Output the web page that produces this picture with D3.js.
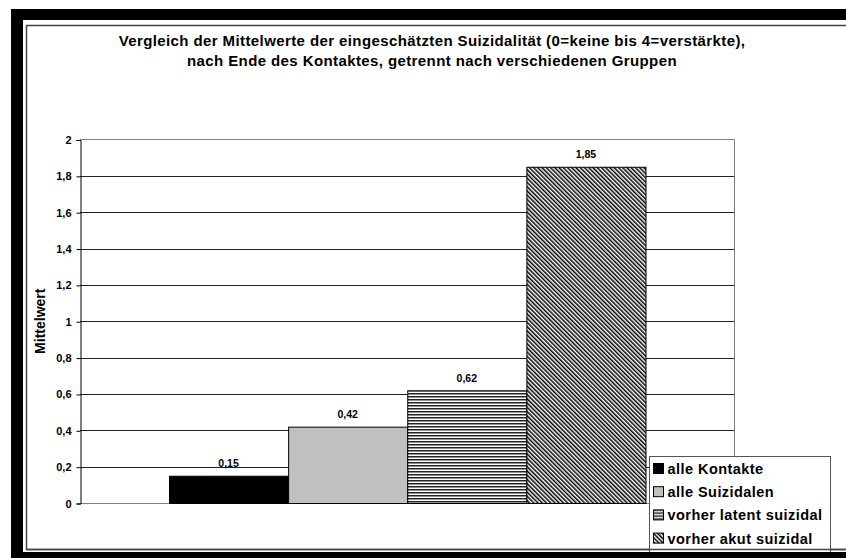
<!DOCTYPE html>
<html><head><meta charset="utf-8">
<script src="https://cdn.jsdelivr.net/npm/d3@7"></script>
<style>html,body{margin:0;padding:0;background:#fff;overflow:hidden}svg{display:block}text{font-family:"Liberation Sans",Arial,sans-serif;font-weight:bold;fill:#000}</style>
</head><body>
<script>
const categories = ["alle Kontakte", "alle Suizidalen", "vorher latent suizidal", "vorher akut suizidal"];
const values = [0.15, 0.42, 0.62, 1.85];
const valueLabels = ["0,15", "0,42", "0,62", "1,85"];
const yTicks = [0, 0.2, 0.4, 0.6, 0.8, 1, 1.2, 1.4, 1.6, 1.8, 2];
const yTickLabels = ["0", "0,2", "0,4", "0,6", "0,8", "1", "1,2", "1,4", "1,6", "1,8", "2"];
const titleLines = ["Vergleich der Mittelwerte der eingeschätzten Suizidalität (0=keine bis 4=verstärkte),", "nach Ende des Kontaktes, getrennt nach verschiedenen Gruppen"];
const yAxisTitle = "Mittelwert";

const W = 846, H = 558;
const svg = d3.select("body").append("svg").attr("width", W).attr("height", H);

// patterns
const defs = svg.append("defs");
const ph = defs.append("pattern").attr("id", "hstripe").attr("patternUnits", "userSpaceOnUse")
  .attr("width", 6).attr("height", 3);
ph.append("rect").attr("width", 6).attr("height", 3).attr("fill", "#fff");
ph.append("rect").attr("y", 0).attr("width", 6).attr("height", 1.5).attr("fill", "#222");
const pd = defs.append("pattern").attr("id", "dstripe").attr("patternUnits", "userSpaceOnUse")
  .attr("width", 3).attr("height", 6).attr("patternTransform", "rotate(-45)");
pd.append("rect").attr("width", 3).attr("height", 6).attr("fill", "#fff");
pd.append("rect").attr("x", 0).attr("width", 1.5).attr("height", 6).attr("fill", "#000");

const fills = ["#000000", "#c0c0c0", "url(#hstripe)", "url(#dstripe)"];

// frame
svg.append("rect").attr("x", 11).attr("y", 9).attr("width", W - 11).attr("height", H - 9).attr("fill", "#000");
svg.append("rect").attr("x", 23).attr("y", 20).attr("width", W - 23).attr("height", 532).attr("fill", "#fff");
svg.append("rect").attr("x", 26.5).attr("y", 25.5).attr("width", W).attr("height", 524).attr("fill", "none")
  .attr("stroke", "#444").attr("stroke-width", 1.5);

// title
svg.append("g").selectAll("text").data(titleLines).join("text")
  .attr("x", 432).attr("y", (d, i) => 46 + i * 20).attr("text-anchor", "middle")
  .style("font-size", "15px").style("letter-spacing", "0.4px").text(d => d);

const plotL = 80, plotR = 734.5, plotT = 139.5, plotB = 503;
const y = d3.scaleLinear().domain([0, 2]).range([plotB, plotT]);
const gap = 89;
const x = d3.scaleBand().domain(categories).range([plotL + gap, plotR - gap]).padding(0);

// gridlines
svg.append("g").selectAll("line").data(yTicks.filter(t => t > 0 && t < 2)).join("line")
  .attr("x1", plotL).attr("x2", plotR)
  .attr("y1", d => Math.round(y(d)) + 0.5).attr("y2", d => Math.round(y(d)) + 0.5)
  .attr("stroke", "#222").attr("stroke-width", 1);

// plot border (top, right) gray
svg.append("path").attr("d", `M${plotL},${plotT}H${plotR}V${plotB}`).attr("fill", "none")
  .attr("stroke", "#808080").attr("stroke-width", 1);
svg.append("line").attr("x1", plotL).attr("x2", plotR).attr("y1", plotB + 0.5).attr("y2", plotB + 0.5)
  .attr("stroke", "#808080");

// bars
svg.append("g").selectAll("rect").data(values).join("rect")
  .attr("x", (d, i) => x(categories[i]) + 0.5)
  .attr("y", d => y(d) + 0.5)
  .attr("width", x.bandwidth())
  .attr("height", d => plotB - y(d))
  .attr("fill", (d, i) => fills[i])
  .attr("stroke", "#000").attr("stroke-width", 1);

// value labels
svg.append("g").selectAll("text").data(values).join("text")
  .attr("x", (d, i) => x(categories[i]) + x.bandwidth() / 2)
  .attr("y", d => y(d) - 8.5).attr("text-anchor", "middle")
  .style("font-size", "10.5px").text((d, i) => valueLabels[i]);

// y axis
const yAxis = d3.axisLeft(y).tickValues(yTicks).tickFormat((d, i) => yTickLabels[i]).tickSize(4).tickPadding(5);
const ga = svg.append("g").attr("transform", `translate(${plotL + 0.5},0.5)`).call(yAxis);
ga.select(".domain").attr("stroke", "#000");
ga.selectAll(".tick line").attr("stroke", "#000");
ga.selectAll(".tick text").style("font-size", "11px").style("font-family", '"Liberation Sans",Arial,sans-serif').style("font-weight", "bold").attr("fill", "#000");

svg.append("text").attr("transform", `translate(45,${(plotT + plotB) / 2}) rotate(-90)`)
  .attr("text-anchor", "middle").style("font-size", "14px").text(yAxisTitle);

// legend
const lg = svg.append("g");
lg.append("rect").attr("x", 649.5).attr("y", 456.5).attr("width", 181).attr("height", 110)
  .attr("fill", "#fff").attr("stroke", "#555").attr("stroke-width", 1);
const items = lg.selectAll("g.item").data(categories).join("g").attr("class", "item")
  .attr("transform", (d, i) => `translate(0,${469 + i * 23.2})`);
items.append("rect").attr("x", 653.5).attr("y", -5.5).attr("width", 10).attr("height", 10)
  .attr("fill", (d, i) => fills[i]).attr("stroke", "#000").attr("stroke-width", 1);
items.append("text").attr("x", 667.5).attr("y", 5).style("font-size", "14.5px").style("letter-spacing", "0.45px").text(d => d);

// restore bottom black band over legend
svg.append("rect").attr("x", 11).attr("y", 552).attr("width", W).attr("height", 6).attr("fill", "#000");
svg.append("line").attr("x1", 26).attr("x2", W).attr("y1", 549.5).attr("y2", 549.5).attr("stroke", "#444").attr("stroke-width", 1.5);
</script>
</body></html>
